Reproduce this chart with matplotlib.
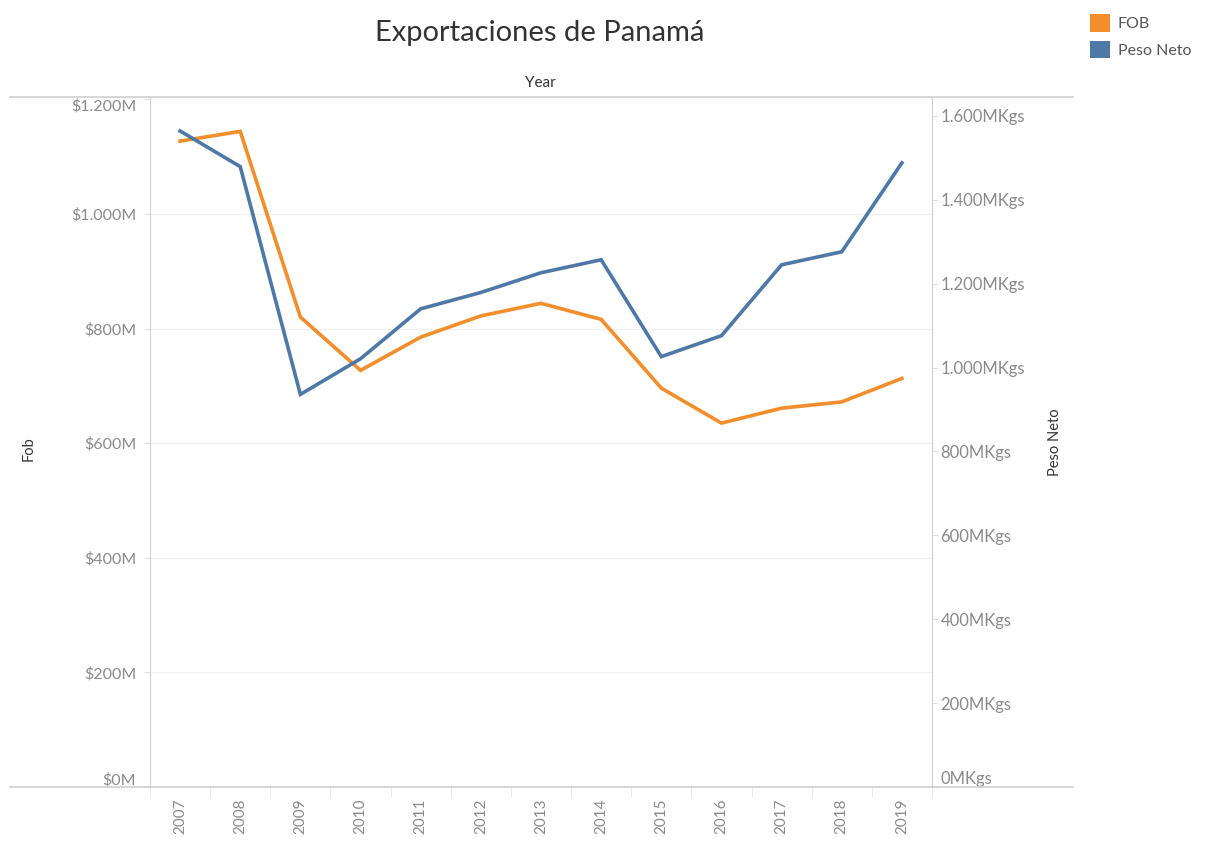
import numpy as np
import matplotlib.pyplot as plt
from matplotlib.lines import Line2D
from matplotlib.patches import Patch
from matplotlib.ticker import FuncFormatter

# datos
years = ["2007", "2008", "2009", "2010", "2011", "2012", "2013",
         "2014", "2015", "2016", "2017", "2018", "2019"]
fob = [1127, 1144, 820, 727, 785, 822, 844, 816, 696, 635, 661, 672, 713]          # millones USD
peso_neto = [1564, 1479, 936, 1021, 1140, 1179, 1226, 1257, 1026, 1076, 1245, 1276, 1488]  # millones Kgs

ORANGE = "#F28E2B"
BLUE = "#4E79A7"
GRID = "#cfcfcf"
TICK = "#8a8a8a"
DARK = "#333333"

plt.rcParams["font.family"] = ["Lato", "DejaVu Sans"]


def fmt_fob(v, p):
    if v >= 1000:
        return "${:.3f}M".format(v / 1000)
    return "${:.0f}M".format(v)


def fmt_peso(v, p):
    if v >= 1000:
        return "{:.3f}MKgs".format(v / 1000)
    return "{:.0f}MKgs".format(v)


fig = plt.figure(figsize=(12.09, 8.41), dpi=100)
ax = fig.add_axes([150 / 1209, 1 - 787 / 841, (932 - 150) / 1209, (787 - 97) / 841])
ax2 = ax.twinx()

x = np.arange(len(years))
ax.plot(x, fob, color=ORANGE, lw=2.6, solid_joinstyle="miter", zorder=3)
ax2.plot(x, peso_neto, color=BLUE, lw=2.6, solid_joinstyle="miter", zorder=3)

ax.set_xlim(-0.5, len(years) - 0.5)
ax.set_ylim(0, 1204)
ax2.set_ylim(0, 1645)

ax.set_yticks([0, 200, 400, 600, 800, 1000, 1200])
ax.yaxis.set_major_formatter(FuncFormatter(fmt_fob))
ax2.set_yticks([0, 200, 400, 600, 800, 1000, 1200, 1400, 1600])
ax2.yaxis.set_major_formatter(FuncFormatter(fmt_peso))

# gridlines suaves
for v in [200, 400, 600, 800, 1000]:
    ax.axhline(v, color="#f0f0f0", lw=1, zorder=0)

ax.set_xticks(x)
ax.set_xticklabels(years, rotation=90, color=TICK, fontsize=11)
ax.tick_params(axis="x", length=0, pad=8)
# marcas entre categorías
ax.set_xticks(np.arange(-0.5, len(years) + 0.5, 1), minor=True)
ax.tick_params(axis="x", which="minor", length=7, color="#e6e6e6")

ax.tick_params(axis="y", colors=TICK, labelsize=11.5, length=4, color="#e0e0e0", pad=6)
ax2.tick_params(axis="y", colors=TICK, labelsize=12, length=4, color="#e0e0e0", pad=2)

ax.get_yticklabels()[0].set_va("bottom")
ax.get_yticklabels()[-1].set_va("top")
ax2.get_yticklabels()[0].set_va("bottom")

for a in (ax, ax2):
    for s in a.spines.values():
        s.set_visible(False)
ax.spines["left"].set_visible(True)
ax.spines["left"].set_color(GRID)
ax2.spines["right"].set_visible(True)
ax2.spines["right"].set_color(GRID)

ax.set_ylabel("Fob", color=DARK, fontsize=10.5)
ax.yaxis.set_label_coords(-0.146, 0.49)
ax2.set_ylabel("Peso Neto", color=DARK, fontsize=10.5, rotation=90)
ax2.yaxis.set_label_coords(1.148, 0.5)

# líneas horizontales superior e inferior (estilo Tableau)
fig.add_artist(Line2D([10 / 1209, 1073 / 1209], [1 - 97 / 841] * 2, color=GRID, lw=1.2))
fig.add_artist(Line2D([10 / 1209, 1073 / 1209], [1 - 787 / 841] * 2, color=GRID, lw=1.2))

fig.text(540 / 1209, 1 - 33 / 841, "Exportaciones de Panamá", ha="center", va="center",
         fontsize=21, color=DARK)
fig.text(540 / 1209, 1 - 83 / 841, "Year", ha="center", va="center", fontsize=11, color=DARK)

handles = [Patch(facecolor=ORANGE), Patch(facecolor=BLUE)]
fig.legend(handles, ["FOB", "Peso Neto"], loc="upper left",
           bbox_to_anchor=(1076 / 1209, 1 - 0 / 841), frameon=False,
           handlelength=1.2, handleheight=1.3, handletextpad=0.5, labelspacing=0.55,
           fontsize=11.5, labelcolor="#555555")

fig.savefig("out.png", dpi=100)
